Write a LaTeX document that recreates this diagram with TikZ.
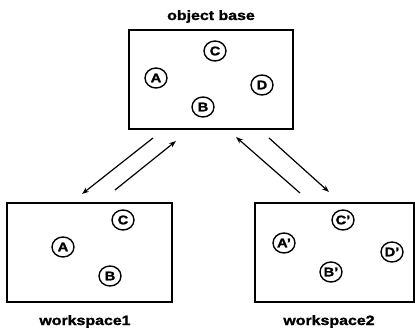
\documentclass[tikz,border=0pt]{standalone}
\usepackage{fontspec}
\setmainfont{Liberation Sans}[FakeStretch=1.18,BoldFeatures={FakeBold=1.5}]
\usetikzlibrary{shapes.geometric,arrows.meta}
\begin{document}
\begin{tikzpicture}[x=1pt,y=-1pt,
  box/.style={draw,line width=2pt,inner sep=0pt},
  obj/.style={draw,ellipse,line width=1.4pt,minimum width=22pt,minimum height=20pt,inner sep=0pt,font=\fontsize{12.5}{12.5}\selectfont\bfseries},
  lbl/.style={anchor=base,font=\fontsize{13.5}{13.5}\selectfont\bfseries},
  arr/.style={line width=1.2pt,-{Stealth[length=7pt,width=5pt]}}]
\useasboundingbox (0,0) rectangle (415,329);
% boxes
\draw[box] (129,30) rectangle (293,129);
\draw[box] (7,203) rectangle (172,302);
\draw[box] (255,203) rectangle (414,302);
\node[lbl] (lob) at (211,20) {object base};
\node[lbl] (lw1) at (85,325) {workspace1};
\node[lbl] (lw2) at (329,325) {workspace2};
% objects in object base
\node[obj] (oC) at (215,51) {C};
\node[obj] (oA) at (156,78) {A};
\node[obj] (oD) at (262,85) {D};
\node[obj] (oB) at (203,107) {B};
% workspace1
\node[obj] (w1C) at (123,220) {C};
\node[obj] (w1A) at (63,247) {A};
\node[obj] (w1B) at (110,276) {B};
% workspace2
\node[obj] (w2C) at (343,220) {C'};
\node[obj] (w2A) at (284,243) {A'};
\node[obj] (w2D) at (392,252) {D'};
\node[obj] (w2B) at (331,272) {B'};
% arrow endpoints
\coordinate (a1s) at (153,138);
\coordinate (a1e) at (82,194);
\coordinate (a2s) at (115,190);
\coordinate (a2e) at (176,141);
\coordinate (a3s) at (300,193);
\coordinate (a3e) at (236,137);
\coordinate (a4s) at (269,138);
\coordinate (a4e) at (329,192);
\draw[arr] (a1s) -- (a1e);
\draw[arr] (a2s) -- (a2e);
\draw[arr] (a3s) -- (a3e);
\draw[arr] (a4s) -- (a4e);
\end{tikzpicture}
\end{document}
